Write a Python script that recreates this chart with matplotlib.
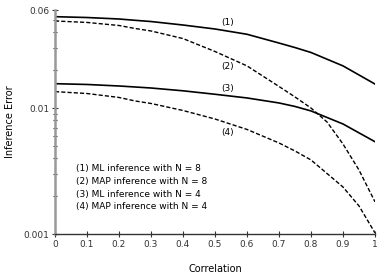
import matplotlib
matplotlib.use('Agg')
import matplotlib.pyplot as plt
from matplotlib.ticker import FixedLocator, NullFormatter

# values (log y axis)
corr_1 = [0, 0.1, 0.2, 0.25, 0.3, 0.4, 0.5, 0.6, 0.7, 0.75, 0.8, 0.9, 1.0]
err_1 = [0.0531, 0.0523, 0.0509, 0.0497, 0.0486, 0.0456, 0.0424, 0.0385,
         0.0328, 0.0302, 0.0276, 0.0216, 0.0155]  # ML, N = 8

corr_2 = [0, 0.1, 0.2, 0.25, 0.3, 0.4, 0.5, 0.6, 0.7, 0.75, 0.8, 0.85, 0.9, 0.95, 1.0]
err_2 = [0.0491, 0.0478, 0.0452, 0.0428, 0.0409, 0.0356, 0.0281, 0.0216,
         0.01483, 0.01224, 0.0100, 0.00775, 0.00518, 0.00322, 0.00180]  # MAP, N = 8

corr_3 = [0, 0.1, 0.2, 0.25, 0.3, 0.4, 0.5, 0.6, 0.7, 0.75, 0.8, 0.9, 1.0]
err_3 = [0.0156, 0.01538, 0.01496, 0.01469, 0.01442, 0.0137, 0.01286, 0.01202,
         0.01097, 0.01029, 0.00948, 0.00747, 0.0054]  # ML, N = 4

corr_4 = [0, 0.1, 0.2, 0.25, 0.3, 0.4, 0.5, 0.6, 0.7, 0.75, 0.8, 0.9, 0.95, 1.0]
err_4 = [0.01349, 0.01304, 0.01213, 0.01138, 0.01087, 0.00956, 0.00818, 0.00676,
         0.00528, 0.00456, 0.00387, 0.00236, 0.00167, 0.00102]  # MAP, N = 4

curve_tags = ['(1)', '(2)', '(3)', '(4)']
legend_lines = ['(1) ML inference with N = 8',
                '(2) MAP inference with N = 8',
                '(3) ML inference with N = 4',
                '(4) MAP inference with N = 4']
x_ticks = [0, 0.1, 0.2, 0.3, 0.4, 0.5, 0.6, 0.7, 0.8, 0.9, 1]
x_tick_labels = ['0', '0.1', '0.2', '0.3', '0.4', '0.5', '0.6', '0.7', '0.8', '0.9', '1']
y_ticks = [0.001, 0.01, 0.06]
y_tick_labels = ['0.001', '0.01', '0.06']

plt.rcParams['font.family'] = ['DejaVu Sans']

fig = plt.figure(figsize=(3.82, 2.77), dpi=100)
ax = fig.add_axes([55 / 382, 43 / 277, 320 / 382, 224 / 277])

dash = (0, (3, 1.5))
ax.plot(corr_1, err_1, color='black', lw=1.2)
ax.plot(corr_2, err_2, color='black', lw=1.0, ls=dash)
ax.plot(corr_3, err_3, color='black', lw=1.2)
ax.plot(corr_4, err_4, color='black', lw=1.0, ls=dash)

ax.set_yscale('log')
ax.set_xlim(0, 1)
ax.set_ylim(0.001, 0.06)

ax.set_xticks(x_ticks)
ax.set_xticklabels(x_tick_labels)
ax.yaxis.set_major_locator(FixedLocator(y_ticks))
ax.set_yticklabels(y_tick_labels)
minor = [k * 0.001 for k in range(2, 10)] + [k * 0.01 for k in range(2, 6)]
ax.yaxis.set_minor_locator(FixedLocator(minor))
ax.yaxis.set_minor_formatter(NullFormatter())

ax.tick_params(axis='both', which='major', direction='inout', length=4, width=0.8,
               labelsize=6.5, colors='#333333', pad=2)
ax.tick_params(axis='y', which='minor', direction='inout', length=3, width=0.8, colors='#333333')

for s in ['top', 'right']:
    ax.spines[s].set_visible(False)
ax.spines['left'].set_color('#999999')
ax.spines['left'].set_linewidth(1.8)
ax.spines['bottom'].set_color('#333333')
ax.spines['bottom'].set_linewidth(1.0)

ax.set_xlabel('Correlation', fontsize=7)
ax.set_ylabel('Inference Error', fontsize=7)
ax.xaxis.set_label_coords(0.5, -0.135)
ax.yaxis.set_label_coords(-0.125, 0.5)

# curve tags
tag_pos = [(0.54, 0.048), (0.54, 0.0215), (0.54, 0.0142), (0.54, 0.0064)]
for t, (tx, ty) in zip(curve_tags, tag_pos):
    ax.text(tx, ty, t, fontsize=6.5, ha='center', va='center')

ax.text(0.066, 0.00233, '\n'.join(legend_lines), fontsize=6.5, ha='left', va='center',
        linespacing=1.52)

fig.savefig('out.png', dpi=100)
